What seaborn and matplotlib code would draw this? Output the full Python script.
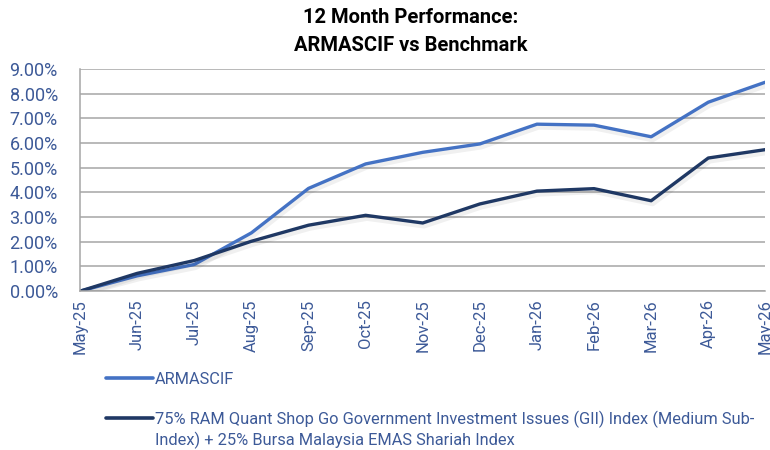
import pandas as pd
import seaborn as sns
from matplotlib import pyplot as plt
from matplotlib.ticker import PercentFormatter
from matplotlib.lines import Line2D
import matplotlib.patheffects as pe

MONTHS = ["May-25", "Jun-25", "Jul-25", "Aug-25", "Sep-25", "Oct-25", "Nov-25",
          "Dec-25", "Jan-26", "Feb-26", "Mar-26", "Apr-26", "May-26"]
FUND = [0.0, 0.62, 1.08, 2.36, 4.16, 5.15, 5.62, 5.96, 6.76, 6.72, 6.25, 7.65, 8.46]
BENCH = [0.0, 0.72, 1.24, 2.02, 2.67, 3.07, 2.76, 3.53, 4.05, 4.15, 3.66, 5.39, 5.73]
FUND_LABEL = "ARMASCIF"
BENCH_LABEL = "75% RAM Quant Shop Go Government Investment Issues (GII) Index (Medium Sub-"
BENCH_LABEL_2 = "Index) + 25% Bursa Malaysia EMAS Shariah Index"
Y_TICKS = [0, 1, 2, 3, 4, 5, 6, 7, 8, 9]

TEXT_BLUE = "#3D5A98"
palette = {FUND_LABEL: "#4472C4", BENCH_LABEL: "#1F3864"}

df = pd.DataFrame({
    "x": list(range(len(MONTHS))) * 2,
    "value": FUND + BENCH,
    "series": [FUND_LABEL] * len(FUND) + [BENCH_LABEL] * len(BENCH),
})

sns.set_theme(style="white")
plt.rcParams["font.family"] = ["Roboto", "DejaVu Sans"]

fig = plt.figure(figsize=(7.7, 4.5), dpi=100)
ax = fig.add_axes([0.104, 0.353, 0.89, 0.494])

shadow = [pe.SimpleLineShadow(offset=(1, -2), shadow_color="#000000", alpha=0.06, linewidth=4), pe.Normal()]
sns.lineplot(data=df, x="x", y="value", hue="series", palette=palette,
             linewidth=2.4, legend=False, ax=ax)
for line in ax.get_lines():
    line.set_path_effects(shadow)

ax.set_xlim(0, len(MONTHS) - 1)
ax.set_ylim(0, 9)
ax.set_yticks(Y_TICKS)
ax.yaxis.set_major_formatter(PercentFormatter(decimals=2))
ax.set_xticks(range(len(MONTHS)))
ax.set_xticklabels(MONTHS, rotation=90)
ax.tick_params(axis="x", colors=TEXT_BLUE, labelsize=12, length=0, pad=6)
ax.tick_params(axis="y", colors=TEXT_BLUE, labelsize=13, length=0, pad=16)
ax.set_xlabel("")
ax.set_ylabel("")
ax.grid(axis="y", color="#A6A6A6", linewidth=1.1)
ax.set_axisbelow(True)
for side in ("top", "right"):
    ax.spines[side].set_visible(False)
for side in ("left", "bottom"):
    ax.spines[side].set_color("#A6A6A6")
    ax.spines[side].set_linewidth(1.1)

fig.suptitle("12 Month Performance:\nARMASCIF vs Benchmark", x=0.533, y=0.983,
             fontsize=14.5, fontweight="bold", color="black", linespacing=1.65)

handles = [Line2D([], [], color=palette[FUND_LABEL], linewidth=2.6),
           Line2D([], [], color=palette[BENCH_LABEL], linewidth=2.6)]
leg = fig.legend(handles, [FUND_LABEL, BENCH_LABEL], loc="upper left",
                 bbox_to_anchor=(0.129, 0.189), frameon=False, fontsize=11.8,
                 labelcolor=TEXT_BLUE, handlelength=2.9, handletextpad=0.1,
                 labelspacing=1.45, borderaxespad=0)

fig.canvas.draw()
ext = leg.get_texts()[1].get_window_extent()
inv = fig.transFigure.inverted()
x0, y0 = inv.transform((ext.x0, ext.y0))
fig.text(x0, y0 - 0.01, BENCH_LABEL_2, ha="left", va="top",
         fontsize=11.8, color=TEXT_BLUE)

fig.savefig("out.png", dpi=100)
plt.close(fig)
